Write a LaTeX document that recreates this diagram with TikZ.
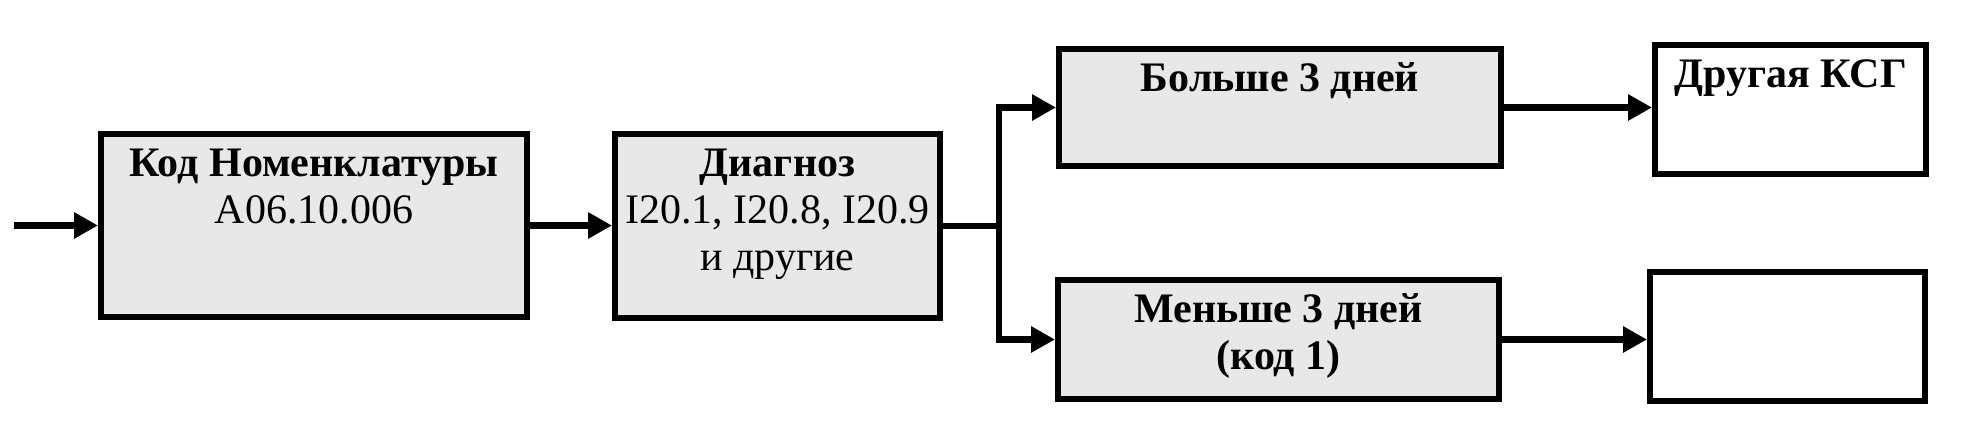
\documentclass[tikz,border=0pt]{standalone}
\usepackage{fontspec}
\setmainfont{Liberation Serif}
\usetikzlibrary{arrows.meta}
\definecolor{boxgray}{HTML}{E8E8E8}
\begin{document}
\begin{tikzpicture}[x=0.5pt,y=-0.5pt,
  box/.style={draw=black, line width=3pt, fill=boxgray, inner sep=0pt},
  wbox/.style={box, fill=white},
  txt/.style={font=\fontsize{21}{23.5}\selectfont, align=center, inner sep=0pt, anchor=north, yshift=-6pt},
  conn/.style={line width=3.2pt, -{Triangle[length=12pt,width=12.5pt]}},
  link/.style={line width=3.2pt}]
\useasboundingbox (0,0) rectangle (1963,428);

% boxes
\node[box, minimum width=213pt, minimum height=91.5pt] (b1) at (314,225.5) {};
\node[box, minimum width=162.5pt, minimum height=92pt] (b2) at (777.5,226) {};
\node[box, minimum width=221pt, minimum height=58.5pt] (b3) at (1280,107.5) {};
\node[box, minimum width=220.5pt, minimum height=59.5pt] (b4) at (1278.5,339.5) {};
\node[wbox, minimum width=135.5pt, minimum height=64.5pt] (b5) at (1790.5,109.5) {};
\node[wbox, minimum width=137.5pt, minimum height=64.5pt] (b6) at (1787.5,336.5) {};

% texts
\node[txt] (t1) at (b1.north) {\strut\textbf{Код Номенклатуры}\\A06.10.006};
\node[txt] (t2) at (b2.north) {\strut\textbf{Диагноз}\\I20.1, I20.8, I20.9\\и другие};
\node[txt] (t3) at (b3.north) {\strut\textbf{Больше 3 дней}};
\node[txt] (t4) at (b4.north) {\strut\textbf{Меньше 3 дней}\\\textbf{(код 1)}};
\node[txt] (t5) at (b5.north) {\strut\textbf{Другая КСГ}};

% connectors
\coordinate (in) at (14,225.5);
\coordinate (j) at (999,226);
\draw[conn] (in) -- (b1.west);
\draw[conn] (b1.east) -- (b1.east -| b2.west);
\draw[link] (b2.east) -- (j);
\draw[conn] (j) |- (b3.west);
\draw[conn] (j) |- (b4.west);
\draw[conn] (b3.east) -- (b3.east -| b5.west);
\draw[conn] (b4.east) -- (b4.east -| b6.west);
\end{tikzpicture}
\end{document}
